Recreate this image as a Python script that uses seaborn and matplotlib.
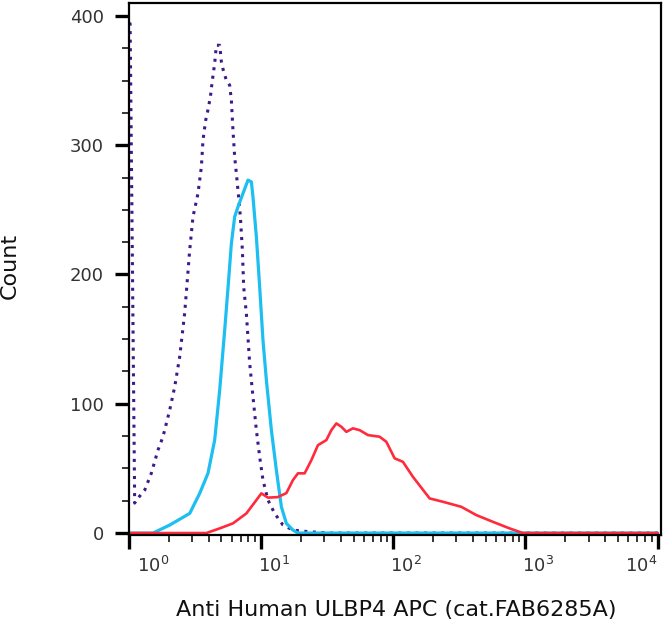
import numpy as np
import pandas as pd
import matplotlib
matplotlib.use("Agg")
import matplotlib.pyplot as plt
import matplotlib.transforms as mtransforms
from matplotlib.ticker import MultipleLocator, LogLocator, FixedLocator
import seaborn as sns

# isotype control (purple dotted)
iso_x = [1.0, 1.02, 1.104, 1.137, 1.315, 1.477, 1.657, 1.808, 2.032, 2.217, 2.418, 2.638,
         2.879, 3.049, 3.326, 3.529, 3.629, 3.804, 3.959, 4.128, 4.274, 4.449, 4.583, 4.855,
         5.001, 5.204, 5.455, 5.777, 5.951, 6.119, 6.303, 6.492, 6.676, 6.962, 7.209, 7.374,
         7.727, 8.185, 8.670, 9.199, 9.743, 10.32, 11.26, 12.65, 14.62, 17.40, 23.28, 32.97,
         100, 1000, 10000]
iso_y = [394, 394, 23.2, 25.5, 33.2, 46.4, 64.2, 74.5, 95.1, 113.1, 136.3, 170.1,
         218.8, 244.6, 262.7, 283.2, 303.9, 319.3, 327.4, 337.4, 350.3, 363.2, 377.3, 377.3,
         364.4, 356.7, 350.3, 346.4, 334.8, 311.6, 291.0, 278.1, 265.2, 244.6, 218.8, 190.4,
         169.9, 131.4, 105.4, 79.6, 59.0, 41.0, 25.5, 15.2, 6.2, 2.3, 1.0, 0,
         0, 0, 0]

# unstained / negative cells (cyan)
neg_x = [1.0, 1.519, 2.032, 2.879, 3.426, 3.959, 4.449, 4.855, 5.297, 5.610, 5.951, 6.303,
         6.676, 7.284, 7.946, 8.434, 8.670, 9.199, 9.743, 10.32, 10.95, 11.95, 13.03, 14.22,
         15.51, 17.40, 18.98, 100, 1000, 10000]
neg_y = [0, 0, 6.2, 15.2, 30.7, 46.2, 71.9, 110.6, 157.0, 189.4, 224.0, 244.6,
         252.3, 262.7, 273.0, 271.6, 260.0, 229.1, 190.4, 149.2, 118.3, 79.6, 48.7, 20.3,
         7.5, 2.3, 0, 0, 0, 0]

# ULBP4 APC stained (red)
pos_x = [1.0, 2.879, 3.849, 4.855, 6.119, 7.727, 9.199, 10.03, 11.26, 13.33, 15.51, 17.40,
         18.98, 21.33, 23.98, 26.90, 31.13, 33.96, 37.06, 40.44, 44.12, 49.48, 55.61, 64.25,
         78.77, 88.51, 102.3, 118.2, 140.7, 188.2, 237.3, 326.9, 424.6, 566.6, 758.0, 955.7,
         10000]
pos_y = [0, 0, 0, 3.6, 7.5, 15.2, 25.5, 30.7, 27.4, 27.8, 30.9, 41.0,
         46.2, 46.2, 56.4, 68.0, 71.9, 79.6, 84.8, 82.2, 78.3, 81.0, 79.6, 75.8,
         74.5, 70.6, 57.8, 55.1, 43.5, 26.8, 24.2, 20.3, 13.9, 8.7, 3.6, 0,
         0]

x_ticks = [1, 10, 100, 1000, 10000]
x_ticklabels = [r"$\mathdefault{10^{0}}$", r"$\mathdefault{10^{1}}$", r"$\mathdefault{10^{2}}$",
                r"$\mathdefault{10^{3}}$", r"$\mathdefault{10^{4}}$"]
y_ticks = [0, 100, 200, 300, 400]

sns.set_style("white")
plt.rcParams["font.family"] = ["DejaVu Sans"]

fig = plt.figure(figsize=(6.63, 6.34), dpi=100)
ax = fig.add_axes([129 / 663, 99 / 634, 532 / 663, 532 / 634])

sns.lineplot(x=iso_x, y=iso_y, ax=ax, color="#3d1a88", linewidth=2.2, sort=False,
             linestyle=(0, (1, 1.8)))
sns.lineplot(x=neg_x, y=neg_y, ax=ax, color="#1cbff0", linewidth=2.3, sort=False)
sns.lineplot(x=pos_x, y=pos_y, ax=ax, color="#ff2a3c", linewidth=1.9, sort=False)

ax.set_xscale("log")
ax.set_xlim(1, 1.06e4)
ax.set_ylim(-1.5, 410)

ax.xaxis.set_major_locator(FixedLocator(x_ticks))
ax.set_xticklabels(x_ticklabels)
ax.xaxis.set_minor_locator(LogLocator(base=10, subs=np.arange(2, 10)))
ax.set_yticks(y_ticks)
ax.yaxis.set_minor_locator(MultipleLocator(25))

ax.tick_params(axis="both", which="both", bottom=True, left=True, top=False, right=False)
ax.tick_params(axis="both", which="major", direction="out", length=10, width=2.4,
               color="black", labelsize=13, labelcolor="#333333")
ax.tick_params(axis="both", which="minor", direction="out", length=5, width=1.1,
               color="black")
ax.tick_params(axis="x", which="major", pad=5)
ax.tick_params(axis="y", which="major", pad=8)

for spine in ax.spines.values():
    spine.set_visible(True)
    spine.set_color("black")
    spine.set_linewidth(1.6)

# tick labels sit to the right of their ticks, last one flush with the axis end
labels = ax.get_xticklabels()
for i, lbl in enumerate(labels):
    if i == len(labels) - 1:
        lbl.set_horizontalalignment("right")
    else:
        lbl.set_horizontalalignment("left")
        if i == 0:
            lbl.set_transform(lbl.get_transform() +
                              mtransforms.ScaledTranslation(8 / 100, 0, fig.dpi_scale_trans))
        else:
            lbl.set_transform(lbl.get_transform() +
                              mtransforms.ScaledTranslation(-3 / 100, 0, fig.dpi_scale_trans))

ax.set_xlabel("Anti Human ULBP4 APC (cat.FAB6285A)", fontsize=16, color="#111111")
ax.set_ylabel("Count", fontsize=16, color="#111111")
ax.xaxis.set_label_coords(0.502, -0.122)
ax.yaxis.set_label_coords(-0.205, 0.505)

fig.savefig("out.png", dpi=100)
